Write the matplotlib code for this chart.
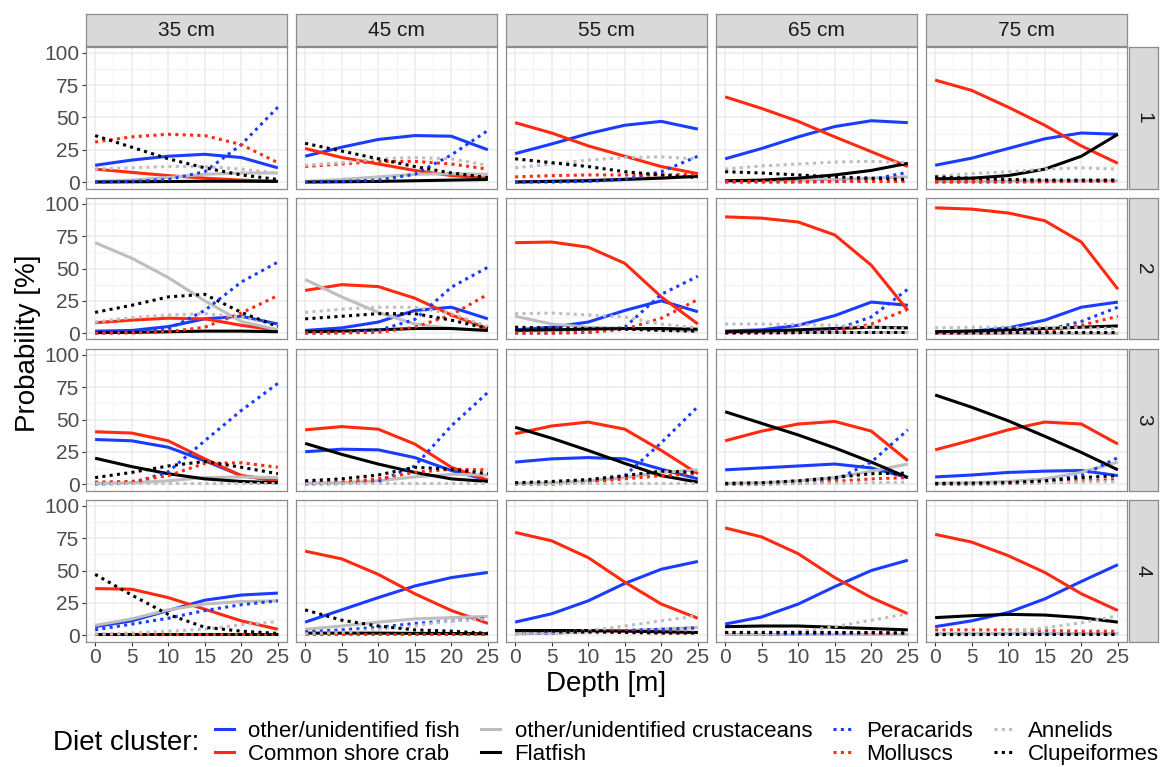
"""Diet cluster probability against depth, faceted by fish length and cluster."""
import matplotlib

matplotlib.use("Agg")

import matplotlib.pyplot as plt  # noqa: E402
from matplotlib.lines import Line2D  # noqa: E402

plt.rcParams["font.family"] = ["Liberation Sans", "DejaVu Sans"]

W, H = 1160, 767

DEPTH = [0, 5, 10, 15, 20, 25]
SIZES = ["35 cm", "45 cm", "55 cm", "65 cm", "75 cm"]
CLUSTERS = ["1", "2", "3", "4"]

# each list: 4 clusters (rows) x 5 sizes (columns), probability [%] at DEPTH
FISH = [
    [[13, 17, 20, 21.5, 19, 11], [20, 27, 33, 36, 35.5, 25], [22, 29.5, 37.5, 44, 47, 41],
     [18, 26, 35, 43, 47.5, 46], [13, 18.5, 26, 33.5, 38, 37]],
    [[1.5, 2, 5, 11, 13, 7], [2, 4, 8.5, 17.5, 20, 11], [2.5, 4.5, 8.5, 17.5, 25, 16.5],
     [1.5, 2.5, 6, 13.5, 24, 21.5], [1, 1.5, 4, 10, 20, 24]],
    [[34.5, 33.5, 28.5, 18, 6.5, 2.5], [25, 27, 26.5, 20.5, 10.5, 3], [17, 19.5, 20.5, 19.5, 11.5, 4],
     [11, 12.5, 14, 15.5, 12.5, 5], [5.5, 7, 9, 10, 10.5, 6.5]],
    [[6.5, 11, 19, 27, 31, 32.5], [10, 19.5, 29, 38, 44.5, 48.5], [10, 16.5, 26.5, 40, 51, 57],
     [8.5, 14, 24, 37.5, 50, 58], [6.5, 11, 17.5, 28, 41.5, 54.5]],
]
CRAB = [
    [[10, 7.5, 5, 3, 1.5, 0.5], [26, 19, 14, 9, 5, 3], [46, 38, 28, 20, 12, 6.5],
     [66, 57, 47, 35, 23.5, 12], [79, 71, 58, 44, 28, 14.5]],
    [[8, 10, 11.5, 11, 6, 2], [33, 37.5, 36, 27, 14, 3.5], [70, 70.5, 66.5, 54, 28, 7],
     [90, 89, 86, 76, 52.5, 17.5], [97, 96, 93, 87, 70.5, 34]],
    [[40.5, 39.5, 33.5, 19.5, 6.5, 2.5], [42, 44.5, 42.5, 31, 13, 3], [39, 45, 48, 42.5, 26, 8],
     [33.5, 41, 46.5, 48.5, 41, 18], [26.5, 34, 42, 48, 46.5, 31]],
    [[36, 35.5, 29, 20, 11, 4.5], [65, 59, 47, 32, 19, 9], [79.5, 73, 60, 41, 24, 13],
     [83, 76, 63, 44.5, 29, 16.5], [78, 72, 61.5, 48.5, 32, 19]],
]
CRUSTACEANS = [
    [[0.5, 1.5, 3.5, 6, 7, 7], [0.5, 2, 4, 6, 6.5, 6], [0.3, 0.8, 1.5, 2.5, 3.5, 4],
     [0.5, 1, 1.5, 2, 3, 4], [0.5, 0.5, 0.8, 1, 1, 1]],
    [[70, 58, 43, 25, 9, 2.5], [41.5, 28, 16, 7, 3.5, 2], [13, 7, 4.5, 3.5, 2.5, 1.5],
     [0.5, 0.5, 0.5, 0.5, 0.5, 0.5], [0.3, 0.3, 0.3, 0.3, 0.3, 0.3]],
    [[0.5, 1, 2.5, 5, 5.5, 5], [0.5, 1, 2.5, 5.5, 7.5, 7], [0.5, 1, 2.5, 5, 9, 11],
     [0.5, 1, 2.5, 5, 10, 15.5], [0.5, 1, 2, 4, 9, 17]],
    [[7.5, 12.5, 19.5, 24, 26, 26.5], [4.5, 7, 10, 12.5, 13.5, 14.5], [1, 1.5, 2.5, 3.5, 4.5, 6],
     [0.5, 0.5, 0.5, 0.5, 0.5, 0.5], [1.5, 1.5, 1.5, 1.5, 1.5, 1.5]],
]
FLATFISH = [
    [[0, 0.2, 0.4, 0.6, 0.6, 0.5], [0, 0.2, 0.5, 1, 1.5, 2], [0, 0.5, 1, 2, 3, 4.5],
     [1, 1.5, 3, 5.5, 9, 14.5], [2.5, 3, 5, 10, 20, 37]],
    [[0.3, 0.5, 1, 1.5, 1.5, 1], [1, 1.5, 2.5, 3.5, 3.5, 2], [2, 2.5, 3, 3.5, 3.5, 3],
     [1, 1.5, 2.5, 3.5, 4.5, 4], [1, 1.5, 2.5, 3.5, 4.5, 5.5]],
    [[20, 13.5, 8, 4, 2, 1], [31.5, 23, 15.5, 9, 4, 2], [44, 35.5, 26, 16, 6.5, 1.5],
     [56, 47, 38, 28, 17, 5], [69, 59.5, 49, 37, 24.5, 11]],
    [[0.5, 0.5, 0.5, 0.5, 0.5, 0.5], [1.5, 1.5, 1.5, 1.3, 1.2, 1], [3.5, 3.5, 3.5, 3, 2.5, 2],
     [6.5, 7, 7, 6, 5, 4], [13.5, 15, 16, 15.5, 13.5, 10]],
]
PERACARIDS = [
    [[0, 0.5, 2, 8, 29, 58], [0, 0.5, 1.5, 6, 21, 40], [0, 0, 0.5, 2, 8, 20],
     [0, 0, 0, 0.3, 2, 7.5], [0, 0, 0, 0.2, 0.5, 1.5]],
    [[0, 0.5, 3, 17.5, 39.5, 55], [0, 0.3, 2, 10.5, 35.5, 51], [0, 0, 0.5, 4.5, 30, 44],
     [0, 0, 0.3, 2.5, 12.5, 34], [0, 0, 0.3, 2, 9, 20]],
    [[0, 0.5, 9.5, 33.5, 57, 78], [0, 0.3, 2, 14, 45, 71], [0, 0, 1, 6.5, 32, 60],
     [0, 0, 0.5, 3, 17, 42], [0, 0, 0.3, 2, 6.5, 20.5]],
    [[4, 8.5, 13, 19, 23.5, 26.5], [2.5, 4, 6, 9, 11, 13], [1, 1.5, 2.5, 3.5, 4.5, 5.5],
     [0.5, 0.7, 1, 1.2, 1.4, 1.5], [0.3, 0.4, 0.5, 0.6, 0.7, 0.8]],
]
MOLLUSCS = [
    [[31, 35, 37, 36, 29, 15], [12, 14, 16, 16, 14, 10], [4, 5, 5.5, 5.5, 5.5, 6],
     [1, 1, 1, 1, 1, 1], [0.5, 0.5, 0.5, 0.5, 0.5, 0.5]],
    [[0, 0, 1, 4.5, 15.5, 29], [0, 0, 0.5, 4.5, 14, 30], [0, 0, 0.5, 3, 11.5, 26],
     [0, 0, 0.2, 1, 7, 18.5], [0, 0, 0.2, 1, 6, 13]],
    [[1.5, 2, 6.5, 16, 16.5, 13], [1, 1.5, 4, 9, 11.5, 11], [0.5, 0.5, 1.5, 4, 6.5, 8],
     [0, 0.3, 0.8, 2, 4, 5], [0, 0.3, 0.5, 1.2, 2.5, 3.5]],
    [[0.5, 0.5, 0.5, 0.5, 0.5, 0.5], [0.5, 0.5, 0.5, 0.5, 0.5, 0.5], [2.5, 2.5, 2.5, 2.5, 2, 2],
     [2, 2, 2, 2, 1.5, 1.5], [4, 4, 4, 3.5, 3, 3]],
]
ANNELIDS = [
    [[10, 11, 12, 12, 10, 7], [13, 15, 18, 19, 18, 13], [11, 14, 17, 19, 19.5, 18],
     [10, 12.5, 14, 15.5, 16, 15], [4.5, 6.5, 8, 10, 11, 10]],
    [[8.5, 12, 14, 15, 12.5, 6], [16, 18.5, 20, 20, 15, 5], [15, 15.5, 14, 12.5, 7, 4],
     [7, 7, 6.5, 6, 4.5, 3.5], [4, 4.5, 4.5, 4.5, 4, 3.5]],
    [[0.5, 0.5, 0.5, 0.5, 0.5, 0.5], [0.5, 0.5, 0.5, 0.5, 0.5, 0.5], [0.5, 0.5, 0.5, 0.5, 0.5, 0.5],
     [0.5, 0.5, 0.5, 0.7, 1, 1.5], [0.5, 0.5, 0.7, 1, 1.5, 2]],
    [[0.8, 1.5, 3, 4.5, 8, 10.5], [1, 2, 4.5, 7, 11, 12.5], [1, 2, 3.5, 7, 11, 15],
     [0.5, 1, 2.5, 6.5, 11.5, 16.5], [0.5, 1, 2.5, 5.5, 9.5, 15]],
]
CLUPEIFORMES = [
    [[36, 27, 18, 11, 5.5, 2], [30, 24, 18, 12, 7, 3.5], [18, 15, 12, 8, 5.5, 3.5],
     [8, 7, 5.5, 4, 3, 2], [4, 3, 2, 1.5, 1.5, 1.5]],
    [[16, 21.5, 28, 30, 16, 5], [11, 13, 15, 15, 10, 3.5], [4.5, 4, 3.5, 3, 2, 1.5],
     [1, 1, 1, 1, 1, 1], [1, 1, 1, 1, 1, 1]],
    [[5, 9, 14, 17.5, 13, 8], [2.5, 4, 7, 13, 11.5, 8], [1, 2, 3.5, 6.5, 10, 9],
     [0.5, 1, 2.5, 5, 8, 8.5], [0.5, 0.7, 1.2, 2.5, 5, 6.5]],
    [[47, 31, 16, 6, 3, 1.3], [19.5, 11.5, 7, 4, 3, 1.3], [3.5, 3, 2.5, 2, 1.5, 1.5],
     [2, 2, 2, 2, 2, 1.5], [1, 1, 1, 1, 1, 1]],
]

BLUE, RED, GREY, BLACK = "#1a3cff", "#ff2a10", "#bebebe", "black"
DOT = (0, (1, 1.4))
SERIES = [
    ("other/unidentified fish", FISH, BLUE, "-"),
    ("Common shore crab", CRAB, RED, "-"),
    ("other/unidentified crustaceans", CRUSTACEANS, GREY, "-"),
    ("Flatfish", FLATFISH, BLACK, "-"),
    ("Peracarids", PERACARIDS, BLUE, DOT),
    ("Molluscs", MOLLUSCS, RED, DOT),
    ("Annelids", ANNELIDS, GREY, DOT),
    ("Clupeiformes", CLUPEIFORMES, BLACK, DOT),
]

# panel geometry in pixels
COL_LEFT = [86, 296, 506, 716, 926]
ROW_TOP = [46.5, 197.5, 348.5, 499.5]
PW, PH = 201, 142
BORDER = "#8c8c8c"


def box(left, top, w, h):
    return [left / W, 1 - (top + h) / H, w / W, h / H]


def main() -> None:
    fig = plt.figure(figsize=(W / 100, H / 100), dpi=100)
    for r, clus in enumerate(CLUSTERS):
        for c, size in enumerate(SIZES):
            ax = fig.add_axes(box(COL_LEFT[c], ROW_TOP[r], PW, PH))
            ax.set_xlim(-1.25, 26.25)
            ax.set_ylim(-5, 105)
            ax.set_xticks(DEPTH)
            ax.set_xticks([2.5, 7.5, 12.5, 17.5, 22.5], minor=True)
            ax.set_yticks([0, 25, 50, 75, 100])
            ax.set_yticks([12.5, 37.5, 62.5, 87.5], minor=True)
            ax.grid(which="major", color="#ebebeb", lw=1.1)
            ax.grid(which="minor", color="#f4f4f4", lw=0.8)
            ax.set_axisbelow(True)
            for sp in ax.spines.values():
                sp.set_color(BORDER)
                sp.set_linewidth(0.9)
            ax.tick_params(which="minor", length=0)
            ax.tick_params(which="major", length=2.6, width=0.8, color="#333333",
                           labelsize=15, labelcolor="#4d4d4d", pad=2)
            ax.tick_params(left=(c == 0), labelleft=(c == 0),
                           bottom=(r == 3), labelbottom=(r == 3))
            for label, data, color, ls in SERIES:
                ax.plot(DEPTH, data[r][c], color=color, ls=ls, lw=2.2,
                        dash_capstyle="butt", solid_capstyle="butt")
            if r == 0:
                st = fig.add_axes(box(COL_LEFT[c], 14, PW, 31.5))
                st.set_facecolor("#d9d9d9")
                st.set_xticks([])
                st.set_yticks([])
                for sp in st.spines.values():
                    sp.set_color(BORDER)
                    sp.set_linewidth(0.9)
                st.text(0.5, 0.47, size, ha="center", va="center", fontsize=15,
                        color="#1a1a1a", transform=st.transAxes)
        rs = fig.add_axes(box(1129, ROW_TOP[r], 29, PH))
        rs.set_facecolor("#d9d9d9")
        rs.set_xticks([])
        rs.set_yticks([])
        for sp in rs.spines.values():
            sp.set_color(BORDER)
            sp.set_linewidth(0.9)
        rs.text(0.5, 0.5, clus, ha="center", va="center", rotation=-90,
                fontsize=15, color="#1a1a1a", transform=rs.transAxes)

    fig.text(28 / W, 1 - 343 / H, "Probability [%]", rotation=90, ha="center",
             va="center", fontsize=20)
    fig.text(606 / W, 1 - 684 / H, "Depth [m]", ha="center", va="center", fontsize=20)

    fig.text(53 / W, 1 - 743 / H, "Diet cluster:", ha="left", va="center", fontsize=20)
    handles = [Line2D([], [], color=col, ls=ls, lw=2.2, dash_capstyle="butt")
               for _, _, col, ls in SERIES]
    fig.legend(handles, [s[0] for s in SERIES], ncol=4, loc="center left",
               bbox_to_anchor=(215 / W, 1 - 743 / H), frameon=False, fontsize=16,
               handlelength=0.85, handletextpad=0.65, columnspacing=0.95,
               labelspacing=0.1, borderpad=0, borderaxespad=0)
    fig.savefig("out.png", dpi=100)
    plt.close(fig)


if __name__ == "__main__":
    main()
